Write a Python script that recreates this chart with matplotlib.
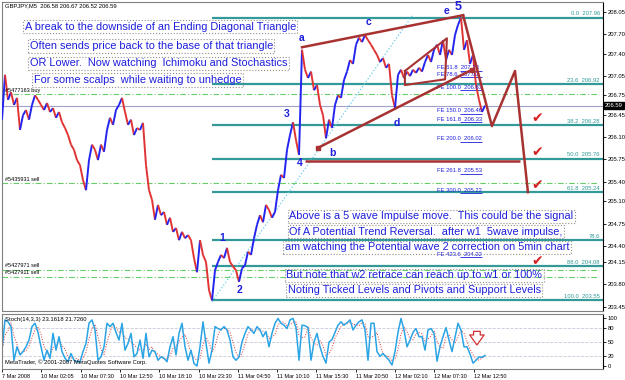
import numpy as np
import pandas as pd
import matplotlib
matplotlib.use("Agg")
import matplotlib.pyplot as plt
from matplotlib.collections import LineCollection

plt.rcParams['font.family'] = ['Liberation Sans', 'DejaVu Sans']

# GBPJPY M5 closes, sampled about every 5 bars off the chart
close = [
    206.37, 207.07, 206.68, 206.80, 206.60, 206.71, 206.21, 206.44, 206.52, 206.37,
    206.60, 206.75, 206.68, 206.60, 206.52, 206.63, 206.49, 206.55, 206.40, 206.49,
    206.33, 206.24, 206.13, 205.98, 205.90, 205.74, 205.66, 205.43, 205.27, 205.74,
    205.98, 205.90, 205.74, 205.98, 205.87, 206.21, 206.40, 206.29, 206.52, 206.60,
    206.71, 206.49, 206.29, 206.37, 206.13, 206.24, 206.21, 206.32, 205.66, 205.27,
    205.12, 204.81, 205.04, 204.88, 204.93, 204.73, 204.84, 204.62, 204.68, 204.49,
    204.62, 204.52, 204.57, 204.49, 204.21, 203.99, 204.49, 204.26, 204.15, 203.71,
    203.55, 204.02, 204.15, 204.26, 204.21, 204.37, 204.15, 204.08, 204.02, 203.84,
    204.05, 204.10, 204.31, 204.26, 204.52, 204.73, 204.88, 204.77, 205.04, 204.96,
    204.84, 204.93, 205.27, 205.51, 205.46, 205.90, 206.13, 206.33, 206.05, 205.82,
    207.46, 207.15, 207.02, 207.12, 206.83, 206.91, 206.60, 206.44, 206.08, 206.37,
    206.24, 206.60, 206.75, 206.71, 206.99, 207.12, 207.30, 207.24, 207.54, 207.65,
    207.58, 207.69, 207.61, 207.54, 207.46, 207.38, 207.27, 207.33, 207.18, 207.24,
    206.75, 206.55, 207.07, 207.15, 207.02, 207.12, 207.05, 207.15, 207.10, 207.18,
    207.12, 207.27, 207.38, 207.27, 207.46, 207.54, 207.38, 207.61, 207.30, 207.46,
    207.38, 207.69, 207.85, 207.96, 207.46, 207.61, 207.24, 207.38, 206.91, 206.68,
    206.49, 206.59,
]

stoch_k = [
    33, 96, 92, 82, 12, 40, 23, 30, 40, 54,
    82, 89, 70, 40, 12, 33, 16, 68, 33, 61,
    30, 16, 9, 26, 12, 9, 9, 30, 47, 89,
    96, 75, 12, 19, 40, 89, 82, 89, 70, 54,
    89, 33, 47, 68, 19, 26, 54, 16, 68, 19,
    33, 30, 12, 19, 16, 9, 40, 61, 23, 68,
    89, 40, 12, 33, 5, 0, 40, 92, 47, 6,
    33, 82, 78, 75, 82, 75, 54, 19, 12, 19,
    50, 68, 82, 75, 68, 82, 75, 61, 72, 40,
    68, 89, 99, 89, 85, 78, 96, 99, 80, 12,
    85, 84, 80, 12, 50, 68, 40, 20, 6, 50,
    55, 70, 85, 92, 85, 90, 96, 75, 85, 92,
    96, 75, 12, 89, 89, 30, 20, 26, 19, 12,
    2, 30, 70, 99, 75, 40, 54, 70, 78, 61,
    61, 33, 75, 78, 68, 10, 40, 61, 80, 54,
    30, 60, 89, 75, 40, 40, 25, 6, 12, 19,
    18, 22,
]

price_ticks = [208.05, 207.70, 207.40, 207.05, 206.75, 206.45, 206.10, 205.75,
               205.40, 205.10, 204.75, 204.40, 204.15, 203.80, 203.45]
time_labels = ["7 Mar 2008", "10 Mar 02:05", "10 Mar 07:30", "10 Mar 12:50",
               "10 Mar 18:10", "10 Mar 23:30", "11 Mar 04:50", "11 Mar 10:10",
               "11 Mar 15:30", "11 Mar 20:50", "12 Mar 02:10", "12 Mar 07:30",
               "12 Mar 12:50"]

fib_names = ["0.0", "23.6", "38.2", "50.0", "61.8", "78.6", "88.0", "100.0"]
fib_prices = [207.96, 206.92, 206.28, 205.76, 205.24, 204.49, 204.08, 203.55]

fe_names = ["61.8", "78.6", "100.0", "150.0", "161.8", "200.0", "261.8", "300.0", "423.6"]
fe_prices = [207.13, 207.03, 206.83, 206.46, 206.33, 206.02, 205.53, 205.22, 204.22]

orders = ["#5477163 buy", "#5435931 sell", "#5427971 sell", "#5427911 sell"]
order_prices = [206.77, 205.38, 204.03, 203.92]
bid = 206.59

notes_top = ["A break to the downside of an Ending Diagonal Triangle",
             "Often sends price back to the base of that triangle",
             "OR Lower.  Now watching  Ichimoku and Stochastics",
             "For some scalps  while waiting to unhedge"]
notes_bottom = ["Above is a 5 wave Impulse move.  This could be the signal",
                "Of A Potential Trend Reversal.  after w1  5wave impulse,",
                "am watching the Potential wave 2 correction on 5min chart",
                "But note that w2 retrace can reach up to w1 or 100%",
                "Noting Ticked Levels and Pivots and Support Levels"]

TEAL = "#339999"
BLUE = "#1E1EDC"
DRED = "#A83232"
XMAX = 200.33

fig = plt.figure(figsize=(6.25, 3.8), dpi=100)
ax = fig.add_axes([2/625, 1 - 311/380, 601/625, 309/380])
ax2 = fig.add_axes([2/625, 1 - 369/380, 601/625, 55/380])

x = np.arange(len(close))
pts = np.column_stack([x, close])
segs = np.stack([pts[:-1], pts[1:]], axis=1)
cols = ["#2424F0" if b >= a else "#E03434" for a, b in zip(close[:-1], close[1:])]
ax.add_collection(LineCollection(segs, colors=cols, linewidths=1.4, zorder=3))

# fibo retracement
ax.hlines(fib_prices, 70, XMAX, color=TEAL, lw=1.6, zorder=2)
for n, p in zip(fib_names, fib_prices):
    txt = n if n == "78.6" else f"{n}  {p:.2f}"
    ax.text(199.3, p + 0.02, txt, ha='right', va='bottom', fontsize=4.2, color=TEAL)

# order lines + bid
ax.hlines(order_prices, 0, 198.7, color="#66CC66", lw=0.8, linestyles=(0, (5, 2, 1, 2)), zorder=2)
for n, p in zip(orders, order_prices):
    ax.text(1, p + 0.02, n, ha='left', va='bottom', fontsize=4.0, color='black')
ax.axhline(bid, color="#A0A0CC", lw=0.8, zorder=1)

# fibo expansion labels
ax.hlines(fe_prices, 152.7, 160, color=BLUE, lw=0.6)
for n, p in zip(fe_names, fe_prices):
    ax.text(145, p + 0.01, f"FE {n}  {p:.2f}", ha='left', va='bottom', fontsize=4.2, color=BLUE)

# ending diagonal
ax.plot([100, 153.7], [207.50, 208.00], color=DRED, lw=1.8, zorder=4)
ax.plot([105.3, 156.7], [205.93, 207.15], color=DRED, lw=1.8, zorder=4)
ax.plot([134.3, 148.3, 147.7, 134.3, 134.3], [207.13, 207.64, 207.00, 206.91, 207.13],
        color=DRED, lw=1.5, zorder=4)
ax.plot([105.3, 156.7], [205.93, 207.15], 's', color=DRED, ms=2.5, zorder=4)
ax.plot([153.7, 163.3, 171, 175.3], [208.00, 206.27, 207.13, 205.24], color=DRED, lw=1.8, zorder=4)
ax.hlines(205.72, 101, 172.7, color=DRED, lw=1.8, zorder=4)
ax.plot([70, 136.7], [203.53, 207.99], color="#66CCEE", lw=0.9, ls=':', zorder=2)

# wave labels
for t, bx, p, fs in [("1", 73.3, 204.52, 7.5), ("2", 79, 203.71, 7.5), ("3", 95, 206.46, 7.5),
                     ("4", 99.3, 205.69, 7.5), ("a", 100, 207.64, 7.5), ("b", 110, 205.85, 7.5),
                     ("c", 122, 207.89, 7.5), ("d", 131.7, 206.32, 7.5), ("e", 148.3, 208.07, 7.5),
                     ("5", 152, 208.13, 9)]:
    ax.text(bx, p, t, ha='center', va='center', fontsize=fs, color=BLUE, fontweight='bold', zorder=6)

for p in [206.40, 205.87, 205.35, 204.17]:
    ax.text(178.5, p, "\u2714", ha='center', va='center', fontsize=10, color="#D42020",
            family='DejaVu Sans', zorder=6)

box = dict(boxstyle='square,pad=0.15', fc='none', ec='#909090', ls=':', lw=0.8)
for t, bx, p in zip(notes_top, [7.5, 9.2, 9.2, 10.5], [207.82, 207.52, 207.25, 206.99]):
    ax.text(bx, p, t, ha='left', va='center', fontsize=7.9, color=BLUE, bbox=box, zorder=7)
for t, bx, p in zip(notes_bottom, [95.8, 95.8, 94.2, 94.8, 95.2],
                    [204.86, 204.62, 204.38, 203.94, 203.71]):
    ax.text(bx, p, t, ha='left', va='center', fontsize=7.8, color=BLUE, bbox=box, zorder=7)

ax.text(1, 208.14, "GBPJPY,M5  206.58 206.67 206.52 206.59", ha='left', va='center',
        fontsize=4.2, color='black')

ax.set_xlim(0, XMAX)
ax.set_ylim(203.385, 208.206)
ax.yaxis.tick_right()
ax.set_yticks(price_ticks)
ax.set_yticklabels([f"{p:.2f}" for p in price_ticks])
ax.tick_params(axis='y', labelsize=4.2, length=2, pad=1.5, width=0.6)
ax.set_xticks([])
ax.text(1.003, bid, f"{bid:.2f}", transform=ax.get_yaxis_transform(), ha='left', va='center',
        fontsize=4.2, color='white', bbox=dict(boxstyle='square,pad=0.15', fc='black', ec='black'))

# stochastic
sx = np.arange(len(stoch_k))
sig = pd.Series(stoch_k).rolling(3, min_periods=1).mean()
ax2.hlines([20, 50, 80], 0, XMAX, color="#C8C8D8", lw=0.6, linestyles='--')
ax2.plot(sx, sig, color="#E03434", lw=0.7, ls=':')
ax2.plot(sx, stoch_k, color="#2AA4E4", lw=1.1)
ax2.annotate('', xy=(158.3, 38), xytext=(158.3, 78),
             arrowprops=dict(arrowstyle='simple,head_width=1.3,head_length=0.9,tail_width=0.6',
                             fc='white', ec='#D03030', lw=0.9, mutation_scale=8))
ax2.text(0.005, 0.9, "Stoch(14,3,3) 23.1618 21.7260", transform=ax2.transAxes,
         fontsize=4.2, va='center')
ax2.text(0.005, 0.12, "MetaTrader, \u00a9 2001-2007 MetaQuotes Software Corp.", transform=ax2.transAxes,
         fontsize=4.2, va='center')
ax2.set_xlim(0, XMAX)
ax2.set_ylim(-6.25, 108.3)
ax2.yaxis.tick_right()
ax2.set_yticks([0, 20, 50, 80, 100])
ax2.tick_params(axis='y', labelsize=4.2, length=2, pad=1.5, width=0.6)
ax2.set_xticks(np.arange(len(time_labels)) * 13.1)
ax2.set_xticklabels(time_labels, ha='left')
ax2.tick_params(axis='x', labelsize=4.0, length=2, pad=1.5, width=0.6)

for a in (ax, ax2):
    for s in a.spines.values():
        s.set_color('#808080')
        s.set_linewidth(0.8)
    a.spines['right'].set_color('black')

fig.savefig("out.png", dpi=100)
